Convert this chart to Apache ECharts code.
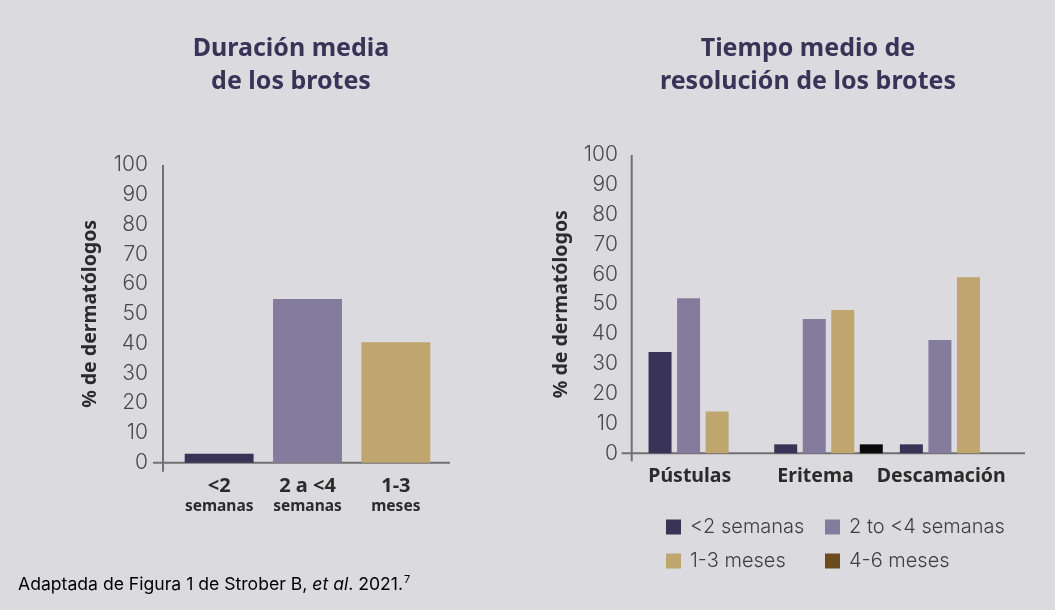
<!DOCTYPE html>
<html>
<head>
<meta charset="utf-8">
<script src="https://cdn.jsdelivr.net/npm/echarts@6/dist/echarts.min.js"></script>
<style>
html,body{margin:0;padding:0;background:#dbdadf;}
#c{width:1055px;height:610px;}
</style>
</head>
<body>
<div id="c"></div>
<script>
// ---- data ----
var leftCategories = ['<2\nsemanas', '2 a <4\nsemanas', '1-3\nmeses'];
var leftValues = [3, 55, 40.5];
var rightCategories = ['Pústulas', 'Eritema', 'Descamación'];
var seriesNames = ['<2 semanas', '2 to <4 semanas', '1-3 meses', '4-6 meses'];
var lt2Values = [34, 3, 3];
var twoTo4Values = [52, 45, 38];
var oneTo3Values = [14, 48, 59];
var fourTo6Values = [0, 3, 0];
var yTicks = [0, 10, 20, 30, 40, 50, 60, 70, 80, 90, 100];

// ---- styles ----
var cDark = '#3a3358', cPurple = '#847c9c', cGold = '#bfa56e', cBlack = '#0a0a0a', cBrown = '#6b4c1f';
var axisCol = '#707070';
var fontTick = 'Inter';
var fontBold = 'Noto Sans';

var L = {left: 175, top: 165, width: 265, height: 297.7};
var R = {left: 640, top: 155, width: 377, height: 298.3};

var chart = echarts.init(document.getElementById('c'));

function yAxisCfg(gridIndex, gap, margin) {
  return {
    type: 'value', gridIndex: gridIndex, min: 0, max: 100, interval: 10,
    name: '% de dermatólogos', nameLocation: 'middle', nameGap: gap,
    nameTextStyle: {fontFamily: fontBold, fontWeight: 'bold', fontSize: 19.5, color: '#2b2b2b'},
    axisLine: {show: false}, axisTick: {show: false}, splitLine: {show: false},
    axisLabel: {
      margin: margin, fontFamily: fontTick, fontWeight: 300, fontSize: 21, color: '#4a4a4a',
      formatter: function (v) { return yTicks.indexOf(v) >= 0 ? String(v) : ''; }
    }
  };
}

var legendText = {fontFamily: fontTick, fontWeight: 300, fontSize: 20, color: '#3f3f3f', padding: [0, 0, 0, 4]};

var option = {
  backgroundColor: '#dbdadf',
  animation: false,
  grid: [
    {left: L.left, top: L.top, width: L.width, height: L.height},
    {left: R.left, top: R.top, width: R.width, height: R.height}
  ],
  xAxis: [
    {
      type: 'category', gridIndex: 0, data: leftCategories,
      axisLine: {show: false}, axisTick: {show: false},
      axisLabel: {
        margin: 13, interval: 0,
        formatter: function (v) { var p = v.split('\n'); return '{b|' + p[0] + '}\n{s|' + p[1] + '}'; },
        rich: {
          b: {fontFamily: fontBold, fontWeight: 'bold', fontSize: 20, lineHeight: 22, color: '#2b2b2b'},
          s: {fontFamily: fontBold, fontWeight: 'bold', fontSize: 15.5, lineHeight: 18, color: '#2b2b2b'}
        }
      }
    },
    {
      type: 'category', gridIndex: 1, data: rightCategories,
      axisLine: {show: false}, axisTick: {show: false},
      axisLabel: {
        margin: 12, interval: 0,
        formatter: function (v) { return '{c|' + v + '}'; },
        rich: {
          c: {fontFamily: fontBold, fontWeight: 'bold', fontSize: 19.5, lineHeight: 22, color: '#2b2b2b', padding: [0, 26, 0, 0]}
        }
      }
    }
  ],
  yAxis: [yAxisCfg(0, 75, 27), yAxisCfg(1, 69, 22)],
  legend: [
    {
      orient: 'vertical', left: 666, top: 517, padding: 0, itemWidth: 15, itemHeight: 15, itemGap: 14,
      icon: 'rect', selectedMode: false, textStyle: legendText,
      data: [
        {name: seriesNames[0], itemStyle: {color: cDark}},
        {name: seriesNames[2], itemStyle: {color: cGold}}
      ]
    },
    {
      orient: 'vertical', left: 825, top: 517, padding: 0, itemWidth: 15, itemHeight: 15, itemGap: 14,
      icon: 'rect', selectedMode: false, textStyle: legendText,
      data: [
        {name: seriesNames[1], itemStyle: {color: cPurple}},
        {name: seriesNames[3], itemStyle: {color: cBrown}}
      ]
    }
  ],
  graphic: [
    // axis lines (left chart)
    {type: 'line', shape: {x1: 163, y1: L.top, x2: 163, y2: L.top + L.height + 9}, style: {stroke: axisCol, lineWidth: 2}},
    {type: 'line', shape: {x1: 153, y1: L.top + L.height, x2: 450, y2: L.top + L.height}, style: {stroke: axisCol, lineWidth: 2}},
    // axis lines (right chart)
    {type: 'line', shape: {x1: 631.7, y1: R.top, x2: 631.7, y2: R.top + R.height + 8}, style: {stroke: axisCol, lineWidth: 2}},
    {type: 'line', shape: {x1: 621.7, y1: R.top + R.height, x2: 1025, y2: R.top + R.height}, style: {stroke: axisCol, lineWidth: 2}},
    // titles
    {type: 'text', x: 291, y: 32, style: {text: 'Duración media\nde los brotes', align: 'center', verticalAlign: 'top',
      font: 'bold 25px "Noto Sans"', lineHeight: 33, fill: cDark}},
    {type: 'text', x: 808, y: 32, style: {text: 'Tiempo medio de\nresolución de los brotes', align: 'center', verticalAlign: 'top',
      font: 'bold 25px "Noto Sans"', lineHeight: 33, fill: cDark}},
    // footnote
    {type: 'text', x: 18, y: 573, style: {
      text: '{a|Adaptada de Figura 1 de Strober B, }{i|et al}{a|. 2021.}{s|7}',
      rich: {
        a: {fontFamily: fontTick, fontSize: 17.6, color: '#333', lineHeight: 24},
        i: {fontFamily: fontTick, fontSize: 17.6, fontStyle: 'italic', color: '#333', lineHeight: 24},
        s: {fontFamily: fontTick, fontSize: 11, color: '#333', lineHeight: 24, padding: [0, 0, 10, 1]}
      }
    }}
  ],
  series: [
    {
      name: 'Duración media', type: 'bar', xAxisIndex: 0, yAxisIndex: 0, barCategoryGap: '22%',
      data: leftValues.map(function (v, i) { return {value: v, itemStyle: {color: [cDark, cPurple, cGold][i]}}; })
    },
    {name: seriesNames[0], type: 'bar', xAxisIndex: 1, yAxisIndex: 1, data: lt2Values, itemStyle: {color: cDark}, barGap: '24%', barCategoryGap: '13.6%'},
    {name: seriesNames[1], type: 'bar', xAxisIndex: 1, yAxisIndex: 1, data: twoTo4Values, itemStyle: {color: cPurple}, barGap: '24%', barCategoryGap: '13.6%'},
    {name: seriesNames[2], type: 'bar', xAxisIndex: 1, yAxisIndex: 1, data: oneTo3Values, itemStyle: {color: cGold}, barGap: '24%', barCategoryGap: '13.6%'},
    {name: seriesNames[3], type: 'bar', xAxisIndex: 1, yAxisIndex: 1, data: fourTo6Values, itemStyle: {color: cBlack}, barGap: '24%', barCategoryGap: '13.6%'}
  ]
};
chart.setOption(option);
</script>
</body>
</html>
